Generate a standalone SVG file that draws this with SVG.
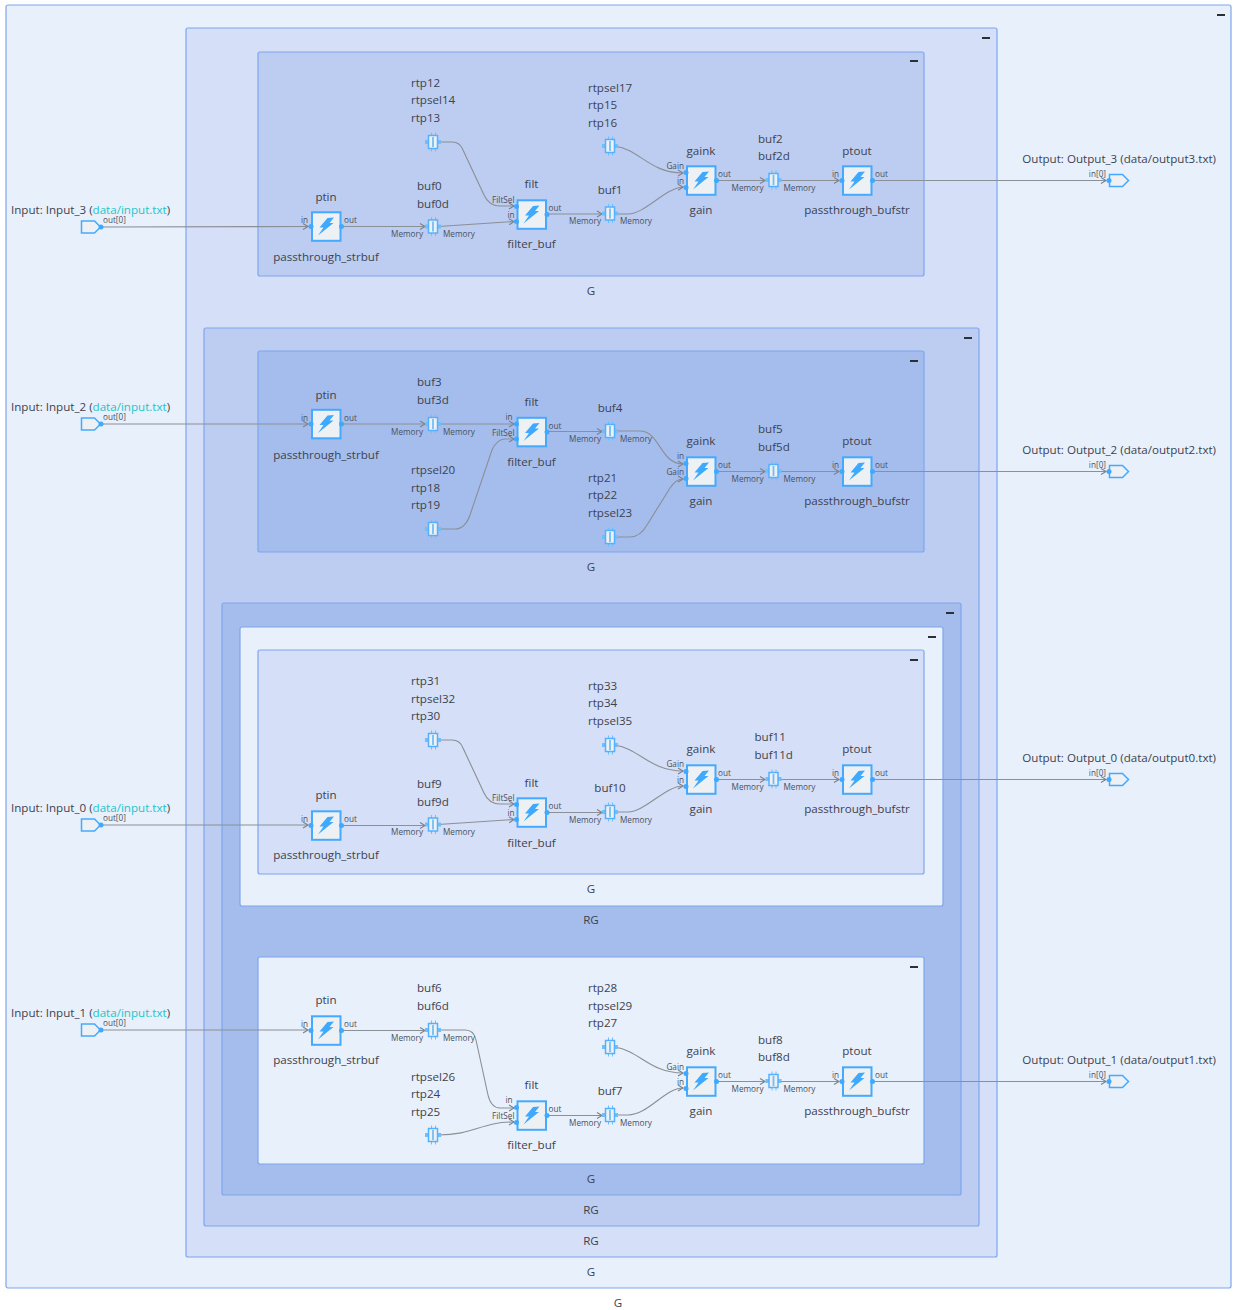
<svg xmlns="http://www.w3.org/2000/svg" width="1233" height="1310" viewBox="0 0 1233 1310">
<style>
text{font-family:"Open Sans","Noto Sans","Liberation Sans",sans-serif;fill:#3c4350}
.n{font-size:11.600px}
.c{font-size:11.600px;text-anchor:middle}
.p{font-size:8.200px;fill:#4a5160}
.e{text-anchor:end}
.l{font-size:11.600px}
.f{fill:#22c5c9}
.g{stroke:#7fa6ee;stroke-width:1.2}
.g0{fill:#e8f0fb}.g1{fill:#d5dff7}.g2{fill:#bccdf1}.g3{fill:#a5bdec}
.m{fill:#2b2f36}
.w path{fill:none;stroke:#8b8f96;stroke-width:1.1;marker-end:url(#arr)}
.d{fill:#3fa9ff}
</style>
<defs>
<marker id="arr" markerUnits="userSpaceOnUse" markerWidth="8" markerHeight="8" refX="6" refY="4" orient="auto"><path d="M1 1L6 4L1 7" fill="none" stroke="#7d8188" stroke-width="1.100"/></marker>
<g id="k"><rect x="-14" y="-13.700" width="28.500" height="28.500" fill="#edf1f3" stroke="#45a9ff" stroke-width="2"/><path d="M1.500-8L8-8.500L3.500-3L7.500-3L-8 9.500L-2.500 1.500L-6.500 1.500Z" fill="#3fa9ff"/></g>
<g id="b"><path d="M-2-9.500H-1V-6.500H-2ZM2-9.500H3V-6.500H2ZM-2 6.500H-1V9.500H-2ZM2 6.500H3V9.500H2ZM-8-2H-4V2H-8ZM4-2H8V2H4Z" fill="#6fbfff"/><rect x="-4.500" y="-6.500" width="9" height="13" fill="#edf1f3" stroke="#55b0ff" stroke-width="1.500"/><rect x="-.9" y="-5" width="1.800" height="10" fill="#74bdf2"/></g>
<path id="in" d="M0-6H13L19 0L13 6H0Z" fill="#edf1f3" stroke="#45a9ff" stroke-width="1.500"/>
<path id="mn" d="M-4-1H4V1H-4Z" class="m"/>
</defs>
<g id="containers">
<rect class="g g0" x="6" y="5" width="1225" height="1283" rx="2"/>
<rect class="g g1" x="186" y="28" width="811" height="1229" rx="2"/>
<rect class="g g2" x="258" y="52" width="666" height="224" rx="2"/>
<rect class="g g2" x="204" y="328" width="775" height="898" rx="2"/>
<rect class="g g3" x="258" y="351" width="666" height="201" rx="2"/>
<rect class="g g3" x="222" y="603" width="739" height="592" rx="2"/>
<rect class="g g0" x="240" y="627" width="703" height="279" rx="2"/>
<rect class="g g1" x="258" y="650" width="666" height="224" rx="2"/>
<rect class="g g0" x="258" y="957" width="666" height="207" rx="2"/>
<use href="#mn" x="1221" y="15"/><use href="#mn" x="986" y="38"/><use href="#mn" x="914" y="61"/><use href="#mn" x="968" y="338"/><use href="#mn" x="914" y="361"/><use href="#mn" x="950" y="613"/><use href="#mn" x="932" y="637"/><use href="#mn" x="914" y="660"/><use href="#mn" x="914" y="967"/>
<text class="c" x="618" y="1307">G</text><text class="c" x="591" y="1276">G</text><text class="c" x="591" y="295">G</text><text class="c" x="591" y="1245">RG</text><text class="c" x="591" y="571">G</text><text class="c" x="591" y="1214">RG</text><text class="c" x="591" y="924">RG</text><text class="c" x="591" y="893">G</text><text class="c" x="591" y="1183">G</text>
</g>
<g id="connectors" class="w">
<path d="M101 227L308 226.500"/><path d="M341 226.500H425"/><path d="M438 142H452Q460 142 463 150L484 195Q489 206 500 206H514"/><path d="M438 226.500L514 221.500"/><path d="M547 214H602"/><path d="M615 146C640 150 650 173 683 173"/><path d="M615 214H628C645 214 665 188 683 187"/><path d="M717 180.500H765"/><path d="M779 180.500H839"/><path d="M872 180.500L1106 180.500"/>
<path d="M101 424H308"/><path d="M341 424H425"/><path d="M438 424H514"/><path d="M438 529H455Q465 529 470 515L492 450Q497 439 505 439H514"/><path d="M547 431.500H602"/><path d="M615 431H640C660 431 660 464 683 464"/><path d="M615 537H630Q640 537 647 525L670 488Q676 479 683 479"/><path d="M717 471.500H765"/><path d="M779 471.500H839"/><path d="M872 471.500H1106"/>
<path d="M101 825H308"/><path d="M341 825.500H425"/><path d="M438 740H452Q460 740 463 748L484 793Q489 804 500 804H514"/><path d="M438 824.500L514 819.500"/><path d="M547 812.500H602"/><path d="M615 745C640 749 650 771 683 771"/><path d="M615 812H628C645 812 665 786 683 786"/><path d="M717 779.500H765"/><path d="M779 779.500H839"/><path d="M872 779.500H1106"/>
<path d="M101 1030H308"/><path d="M341 1030.500H425"/><path d="M438 1030H465Q474 1030 476 1040L488 1095Q491 1108 500 1108H514"/><path d="M438 1135C475 1135 480 1122 514 1122"/><path d="M547 1115.500H602"/><path d="M615 1047C640 1051 650 1073 683 1073"/><path d="M615 1115H628C648 1115 665 1088 683 1088"/><path d="M717 1081.500H765"/><path d="M779 1081.500H839"/><path d="M872 1081.500H1106"/>
</g>
<g id="Input_3"><text class="l" x="11" y="214">Input: Input_3 (<tspan class="f">data/input.txt</tspan>)</text><use href="#in" x="81.500" y="227"/><circle class="d" cx="101" cy="227" r="2.500"/><text class="p" x="103" y="223">out[0]</text></g>
<g id="Input_2"><text class="l" x="11" y="411">Input: Input_2 (<tspan class="f">data/input.txt</tspan>)</text><use href="#in" x="81.500" y="424"/><circle class="d" cx="101" cy="424" r="2.500"/><text class="p" x="103" y="420">out[0]</text></g>
<g id="Input_0"><text class="l" x="11" y="812">Input: Input_0 (<tspan class="f">data/input.txt</tspan>)</text><use href="#in" x="81.500" y="825"/><circle class="d" cx="101" cy="825" r="2.500"/><text class="p" x="103" y="821">out[0]</text></g>
<g id="Input_1"><text class="l" x="11" y="1017">Input: Input_1 (<tspan class="f">data/input.txt</tspan>)</text><use href="#in" x="81.500" y="1030"/><circle class="d" cx="101" cy="1030" r="2.500"/><text class="p" x="103" y="1026">out[0]</text></g>
<g id="Output_3"><text class="l e" x="1216" y="163">Output: Output_3 (data/output3.txt)</text><use href="#in" x="1109.500" y="180.500"/><circle class="d" cx="1109" cy="180.500" r="2.500"/><text class="p e" x="1106" y="177">in[0]</text></g>
<g id="Output_2"><text class="l e" x="1216" y="454">Output: Output_2 (data/output2.txt)</text><use href="#in" x="1109.500" y="471.500"/><circle class="d" cx="1109" cy="471.500" r="2.500"/><text class="p e" x="1106" y="468">in[0]</text></g>
<g id="Output_0"><text class="l e" x="1216" y="762">Output: Output_0 (data/output0.txt)</text><use href="#in" x="1109.500" y="779.500"/><circle class="d" cx="1109" cy="779.500" r="2.500"/><text class="p e" x="1106" y="776">in[0]</text></g>
<g id="Output_1"><text class="l e" x="1216" y="1064">Output: Output_1 (data/output1.txt)</text><use href="#in" x="1109.500" y="1081.500"/><circle class="d" cx="1109" cy="1081.500" r="2.500"/><text class="p e" x="1106" y="1078">in[0]</text></g>

<g id="ptin_a" transform="translate(326 226)"><use href="#k"/><circle class="d" cx="-15" cy=".5" r="2.500"/><circle class="d" cx="15.500" cy=".5" r="2.500"/><text class="c" y="-25">ptin</text><text class="c" y="35">passthrough_strbuf</text><text class="p e" x="-18" y="-3">in</text><text class="p" x="18" y="-3">out</text></g>
<g id="rtp_a1" transform="translate(433 142)"><use href="#b"/><text class="n" x="-22" y="-55">rtp12</text><text class="n" x="-22" y="-38">rtpsel14</text><text class="n" x="-22" y="-20">rtp13</text></g>
<g id="buf0" transform="translate(433 226.500)"><use href="#b"/><text class="n" x="-16" y="-37">buf0</text><text class="n" x="-16" y="-19">buf0d</text><text class="p e" x="-10" y="10.500">Memory</text><text class="p" x="10" y="10.500">Memory</text></g>
<g id="filt_a" transform="translate(531.500 214)"><use href="#k"/><circle class="d" cx="-15" cy="-7.500" r="2.500"/><circle class="d" cx="-15" cy="7.500" r="2.500"/><circle class="d" cx="15.500" cy=".5" r="2.500"/><text class="c" y="-26">filt</text><text class="c" y="34">filter_buf</text><text class="p e" x="-17" y="-11">FiltSel</text><text class="p e" x="-17" y="4">in</text><text class="p" x="17" y="-3">out</text></g>
<g id="buf1" transform="translate(610 213.500)"><use href="#b"/><text class="c" y="-20">buf1</text><text class="p e" x="-9" y="10.500">Memory</text><text class="p" x="10" y="10.500">Memory</text></g>
<g id="rtp_a2" transform="translate(610 146)"><use href="#b"/><text class="n" x="-22" y="-54">rtpsel17</text><text class="n" x="-22" y="-37">rtp15</text><text class="n" x="-22" y="-19">rtp16</text></g>
<g id="gaink_a" transform="translate(701 180)"><use href="#k"/><circle class="d" cx="-15" cy="-7.500" r="2.500"/><circle class="d" cx="-15" cy="7.500" r="2.500"/><circle class="d" cx="15.500" cy=".5" r="2.500"/><text class="c" y="-25">gaink</text><text class="c" y="34">gain</text><text class="p e" x="-17" y="-11">Gain</text><text class="p e" x="-17" y="4">in</text><text class="p" x="17" y="-3">out</text></g>
<g id="buf2" transform="translate(773.500 180)"><use href="#b"/><text class="n" x="-15.500" y="-37">buf2</text><text class="n" x="-15.500" y="-20">buf2d</text><text class="p e" x="-10" y="10.500">Memory</text><text class="p" x="10" y="10.500">Memory</text></g>
<g id="ptout_a" transform="translate(857 180)"><use href="#k"/><circle class="d" cx="-15" cy=".5" r="2.500"/><circle class="d" cx="15.500" cy=".5" r="2.500"/><text class="c" y="-25">ptout</text><text class="c" y="34">passthrough_bufstr</text><text class="p e" x="-18" y="-3">in</text><text class="p" x="18" y="-3">out</text></g>

<g id="ptin_b" transform="translate(326 423.500)"><use href="#k"/><circle class="d" cx="-15" cy=".5" r="2.500"/><circle class="d" cx="15.500" cy=".5" r="2.500"/><text class="c" y="-25">ptin</text><text class="c" y="35">passthrough_strbuf</text><text class="p e" x="-18" y="-3">in</text><text class="p" x="18" y="-3">out</text></g>
<g id="buf3" transform="translate(433 424)"><use href="#b"/><text class="n" x="-16" y="-38">buf3</text><text class="n" x="-16" y="-20">buf3d</text><text class="p e" x="-10" y="10.500">Memory</text><text class="p" x="10" y="10.500">Memory</text></g>
<g id="rtp_b1" transform="translate(433 529)"><use href="#b"/><text class="n" x="-22" y="-55">rtpsel20</text><text class="n" x="-22" y="-37">rtp18</text><text class="n" x="-22" y="-20">rtp19</text></g>
<g id="filt_b" transform="translate(531.500 431.500)"><use href="#k"/><circle class="d" cx="-15" cy="-7.500" r="2.500"/><circle class="d" cx="-15" cy="7.500" r="2.500"/><circle class="d" cx="15.500" cy=".5" r="2.500"/><text class="c" y="-26">filt</text><text class="c" y="34">filter_buf</text><text class="p e" x="-19" y="-11.500">in</text><text class="p e" x="-17" y="4.500">FiltSel</text><text class="p" x="17" y="-3">out</text></g>
<g id="buf4" transform="translate(610 431)"><use href="#b"/><text class="c" y="-19">buf4</text><text class="p e" x="-9" y="10.500">Memory</text><text class="p" x="10" y="10.500">Memory</text></g>
<g id="rtp_b2" transform="translate(610 537)"><use href="#b"/><text class="n" x="-22" y="-55">rtp21</text><text class="n" x="-22" y="-38">rtp22</text><text class="n" x="-22" y="-20">rtpsel23</text></g>
<g id="gaink_b" transform="translate(701 471)"><use href="#k"/><circle class="d" cx="-15" cy="-7.500" r="2.500"/><circle class="d" cx="-15" cy="7.500" r="2.500"/><circle class="d" cx="15.500" cy=".5" r="2.500"/><text class="c" y="-26">gaink</text><text class="c" y="34">gain</text><text class="p e" x="-17" y="-12">in</text><text class="p e" x="-17" y="4">Gain</text><text class="p" x="17" y="-3">out</text></g>
<g id="buf5" transform="translate(773.500 471)"><use href="#b"/><text class="n" x="-15.500" y="-38">buf5</text><text class="n" x="-15.500" y="-20">buf5d</text><text class="p e" x="-10" y="10.500">Memory</text><text class="p" x="10" y="10.500">Memory</text></g>
<g id="ptout_b" transform="translate(857 471)"><use href="#k"/><circle class="d" cx="-15" cy=".5" r="2.500"/><circle class="d" cx="15.500" cy=".5" r="2.500"/><text class="c" y="-26">ptout</text><text class="c" y="34">passthrough_bufstr</text><text class="p e" x="-18" y="-3">in</text><text class="p" x="18" y="-3">out</text></g>

<g id="ptin_c" transform="translate(326 825)"><use href="#k"/><circle class="d" cx="-15" cy=".5" r="2.500"/><circle class="d" cx="15.500" cy=".5" r="2.500"/><text class="c" y="-26">ptin</text><text class="c" y="34">passthrough_strbuf</text><text class="p e" x="-18" y="-3">in</text><text class="p" x="18" y="-3">out</text></g>
<g id="rtp_c1" transform="translate(433 740)"><use href="#b"/><text class="n" x="-22" y="-55">rtp31</text><text class="n" x="-22" y="-37">rtpsel32</text><text class="n" x="-22" y="-20">rtp30</text></g>
<g id="buf9" transform="translate(433 824.500)"><use href="#b"/><text class="n" x="-16" y="-37">buf9</text><text class="n" x="-16" y="-19">buf9d</text><text class="p e" x="-10" y="10.500">Memory</text><text class="p" x="10" y="10.500">Memory</text></g>
<g id="filt_c" transform="translate(531.500 812)"><use href="#k"/><circle class="d" cx="-15" cy="-7.500" r="2.500"/><circle class="d" cx="-15" cy="7.500" r="2.500"/><circle class="d" cx="15.500" cy=".5" r="2.500"/><text class="c" y="-25">filt</text><text class="c" y="35">filter_buf</text><text class="p e" x="-17" y="-11">FiltSel</text><text class="p e" x="-17" y="4">in</text><text class="p" x="17" y="-3">out</text></g>
<g id="buf10" transform="translate(610 812)"><use href="#b"/><text class="c" y="-20">buf10</text><text class="p e" x="-9" y="10.500">Memory</text><text class="p" x="10" y="10.500">Memory</text></g>
<g id="rtp_c2" transform="translate(610 745)"><use href="#b"/><text class="n" x="-22" y="-55">rtp33</text><text class="n" x="-22" y="-38">rtp34</text><text class="n" x="-22" y="-20">rtpsel35</text></g>
<g id="gaink_c" transform="translate(701 779)"><use href="#k"/><circle class="d" cx="-15" cy="-7.500" r="2.500"/><circle class="d" cx="-15" cy="7.500" r="2.500"/><circle class="d" cx="15.500" cy=".5" r="2.500"/><text class="c" y="-26">gaink</text><text class="c" y="34">gain</text><text class="p e" x="-17" y="-12">Gain</text><text class="p e" x="-17" y="4">in</text><text class="p" x="17" y="-3">out</text></g>
<g id="buf11" transform="translate(773.500 779)"><use href="#b"/><text class="n" x="-19" y="-38">buf11</text><text class="n" x="-19" y="-20">buf11d</text><text class="p e" x="-10" y="10.500">Memory</text><text class="p" x="10" y="10.500">Memory</text></g>
<g id="ptout_c" transform="translate(857 779)"><use href="#k"/><circle class="d" cx="-15" cy=".5" r="2.500"/><circle class="d" cx="15.500" cy=".5" r="2.500"/><text class="c" y="-26">ptout</text><text class="c" y="34">passthrough_bufstr</text><text class="p e" x="-18" y="-3">in</text><text class="p" x="18" y="-3">out</text></g>

<g id="ptin_d" transform="translate(326 1030)"><use href="#k"/><circle class="d" cx="-15" cy=".5" r="2.500"/><circle class="d" cx="15.500" cy=".5" r="2.500"/><text class="c" y="-26">ptin</text><text class="c" y="34">passthrough_strbuf</text><text class="p e" x="-18" y="-3">in</text><text class="p" x="18" y="-3">out</text></g>
<g id="buf6" transform="translate(433 1030)"><use href="#b"/><text class="n" x="-16" y="-38">buf6</text><text class="n" x="-16" y="-20">buf6d</text><text class="p e" x="-10" y="10.500">Memory</text><text class="p" x="10" y="10.500">Memory</text></g>
<g id="rtp_d1" transform="translate(433 1135)"><use href="#b"/><text class="n" x="-22" y="-54">rtpsel26</text><text class="n" x="-22" y="-37">rtp24</text><text class="n" x="-22" y="-19">rtp25</text></g>
<g id="filt_d" transform="translate(531.500 1115)"><use href="#k"/><circle class="d" cx="-15" cy="-7.500" r="2.500"/><circle class="d" cx="-15" cy="7.500" r="2.500"/><circle class="d" cx="15.500" cy=".5" r="2.500"/><text class="c" y="-26">filt</text><text class="c" y="34">filter_buf</text><text class="p e" x="-19" y="-12">in</text><text class="p e" x="-17" y="4">FiltSel</text><text class="p" x="17" y="-3">out</text></g>
<g id="buf7" transform="translate(610 1115)"><use href="#b"/><text class="c" y="-20">buf7</text><text class="p e" x="-9" y="10.500">Memory</text><text class="p" x="10" y="10.500">Memory</text></g>
<g id="rtp_d2" transform="translate(610 1047)"><use href="#b"/><text class="n" x="-22" y="-55">rtp28</text><text class="n" x="-22" y="-37">rtpsel29</text><text class="n" x="-22" y="-20">rtp27</text></g>
<g id="gaink_d" transform="translate(701 1081)"><use href="#k"/><circle class="d" cx="-15" cy="-7.500" r="2.500"/><circle class="d" cx="-15" cy="7.500" r="2.500"/><circle class="d" cx="15.500" cy=".5" r="2.500"/><text class="c" y="-26">gaink</text><text class="c" y="34">gain</text><text class="p e" x="-17" y="-11">Gain</text><text class="p e" x="-17" y="4">in</text><text class="p" x="17" y="-3">out</text></g>
<g id="buf8" transform="translate(773.500 1081)"><use href="#b"/><text class="n" x="-15.500" y="-37">buf8</text><text class="n" x="-15.500" y="-20">buf8d</text><text class="p e" x="-10" y="10.500">Memory</text><text class="p" x="10" y="10.500">Memory</text></g>
<g id="ptout_d" transform="translate(857 1081)"><use href="#k"/><circle class="d" cx="-15" cy=".5" r="2.500"/><circle class="d" cx="15.500" cy=".5" r="2.500"/><text class="c" y="-26">ptout</text><text class="c" y="34">passthrough_bufstr</text><text class="p e" x="-18" y="-3">in</text><text class="p" x="18" y="-3">out</text></g>
</svg>
